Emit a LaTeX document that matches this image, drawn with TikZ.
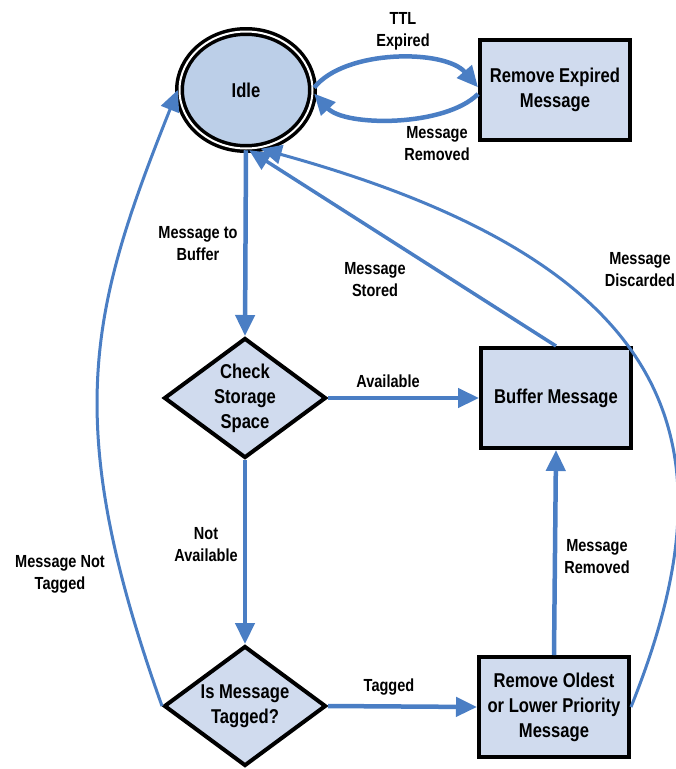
\documentclass[tikz,border=0pt]{standalone}
\usepackage{fontspec}
\setmainfont{Liberation Sans}[FakeStretch=0.83]
\usetikzlibrary{shapes.geometric,arrows.meta}

\begin{document}
\begin{tikzpicture}[x=1pt, y=-1pt,
    statebox/.style={draw=black, line width=4pt, fill=boxfill, inner sep=0pt,
      minimum width=150pt, minimum height=100pt, align=center,
      font=\fontsize{20}{25}\selectfont\bfseries},
    decision/.style={diamond, draw=black, line width=4pt, fill=boxfill, aspect=1.35,
      inner sep=0pt, minimum width=162pt, minimum height=120pt, align=center,
      font=\fontsize{20}{25}\selectfont\bfseries},
    flow/.style={draw=flowblue, line width=4.5pt, -{Triangle[length=21pt,width=19pt]}},
    longflow/.style={flow, line width=3pt},
    lbl/.style={align=center, font=\fontsize{17.5}{22}\selectfont\bfseries}]
  % Define colors
  \definecolor{flowblue}{RGB}{74,126,196}
  \definecolor{boxfill}{RGB}{208,219,238}
  \definecolor{idlefill}{RGB}{188,207,232}

  \useasboundingbox (0,0) rectangle (676,769);

  % States
  \node[ellipse, draw=black, line width=3.5pt, double=white, double distance=2pt,
    fill=idlefill, inner sep=0pt, minimum width=133pt, minimum height=117pt,
    font=\fontsize{20}{25}\selectfont\bfseries] (idle) at (246,90) {Idle};
  \node[statebox] (expired) at (555,90) {Remove Expired\\Message};
  \node[statebox] (buffer) at (556,398) {Buffer Message};
  \node[statebox] (oldest) at (554,707) {Remove Oldest\\or Lower Priority\\Message};

  % Decisions
  \node[decision] (check) at (245,398) {Check\\Storage\\Space};
  \node[decision] (tagged) at (245,706) {Is Message\\Tagged?};

  % Expiry loop
  \draw[flow] (idle.2) .. controls (345,49) and (445,49) .. (expired.178);
  \draw[flow] (expired.183) .. controls (445,127) and (345,127) .. (idle.-3);
  \node[lbl] (ttl) at (403,31) {TTL\\Expired};
  \node[lbl] (expremoved) at (437,144) {Message\\Removed};

  % Main path
  \draw[flow] (idle.south) -- (check.north);
  \draw[flow] (check.east) -- (buffer.west);
  \draw[flow] (check.south) -- (tagged.north);
  \draw[flow] (tagged.east) -- (oldest.west);
  \draw[flow] (oldest.north) -- (buffer.south);
  \node[lbl] (tobuffer) at (198,244) {Message to\\Buffer};
  \node[lbl] (avail) at (388,381) {Available};
  \node[lbl] (notavail) at (206,545) {Not\\Available};
  \node[lbl] (tag) at (389,687) {Tagged};
  \node[lbl] (oldremoved) at (597,557) {Message\\Removed};

  % Back to idle
  \draw[flow, line width=3.5pt] (buffer.north) -- (idle.-87);
  \draw[longflow] (oldest.east) .. controls (730,460) and (700,270) .. (idle.-76);
  \draw[longflow] (tagged.west) .. controls (60,420) and (90,310) .. (idle.west);
  \node[lbl] (stored) at (375,280) {Message\\Stored};
  \node[lbl] (discarded) at (640,270) {Message\\Discarded};
  \node[lbl] (nottagged) at (60,574) {Message Not\\Tagged};
\end{tikzpicture}
\end{document}
